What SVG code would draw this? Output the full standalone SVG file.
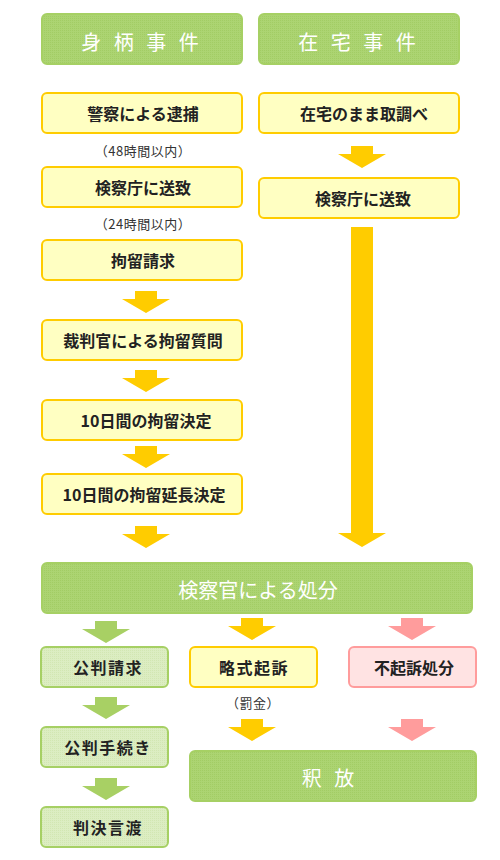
<svg xmlns="http://www.w3.org/2000/svg" width="500" height="860" viewBox="0 0 500 860">
<defs>
<pattern id="dotG" width="2" height="2" patternUnits="userSpaceOnUse">
<rect width="2" height="2" fill="#acd472"/><rect width="1" height="1" fill="#a2cc64"/>
</pattern>
<pattern id="dotL" width="2" height="2" patternUnits="userSpaceOnUse">
<rect width="2" height="2" fill="#dcedc2"/><rect width="1" height="1" fill="#d2e6b2"/>
</pattern>
<path id="arr" d="M-11,0 H11 V8 H24 L0,22 L-24,8 H-11 Z"/>
</defs>
<style>
.hd{fill:url(#dotG);stroke:#a6d064;stroke-width:2}
.yb{fill:#ffffc2;stroke:#ffcc00;stroke-width:2}
.gb{fill:url(#dotL);stroke:#a6d064;stroke-width:2}
.pb{fill:#ffe3e3;stroke:#ff9c9c;stroke-width:2}
.t{font-family:"Noto Sans CJK JP","Noto Sans",sans-serif;font-size:16px;font-weight:bold;fill:#222;text-anchor:middle;dominant-baseline:central}
.sp{letter-spacing:1.5px}
.s{font-family:"Noto Sans CJK JP","Noto Sans",sans-serif;font-size:13px;fill:#333;text-anchor:middle;dominant-baseline:central;letter-spacing:0.5px}
.w{font-family:"Noto Sans CJK JP","Noto Sans",sans-serif;font-size:20px;fill:#fff;text-anchor:middle;dominant-baseline:central}
.ya{fill:#ffcc00}.ga{fill:#a8d064}.pa{fill:#ff9c9c}
</style>
<g id="connectors">
<use href="#arr" class="ya" x="146" y="291"/>
<use href="#arr" class="ya" x="146" y="370"/>
<use href="#arr" class="ya" x="146" y="446"/>
<use href="#arr" class="ya" x="146" y="526"/>
<use href="#arr" class="ya" x="362" y="146"/>
<path class="ya" d="M351,227 H373 V533 H386 L362,547 L338,533 H351 Z"/>
<use href="#arr" class="ga" x="106" y="621"/>
<use href="#arr" class="ga" x="106" y="697"/>
<use href="#arr" class="ga" x="106" y="778"/>
<use href="#arr" class="ya" x="252" y="618"/>
<use href="#arr" class="ya" x="252" y="719"/>
<use href="#arr" class="pa" x="412" y="618"/>
<use href="#arr" class="pa" x="412" y="719"/>
</g>
<g id="h1"><rect class="hd" x="42" y="14" width="200" height="50" rx="5"/><text class="w" x="142" y="41" letter-spacing="4">身 柄 事 件</text></g>
<g id="h2"><rect class="hd" x="259" y="14" width="200" height="50" rx="5"/><text class="w" x="359" y="41" letter-spacing="4">在 宅 事 件</text></g>
<g id="n1"><rect class="yb" x="42" y="93" width="200" height="40" rx="5"/><text class="t" x="143" y="113">警察による逮捕</text></g>
<g id="l1"><text class="s" x="143" y="150">（48時間以内）</text></g>
<g id="n2"><rect class="yb" x="42" y="167" width="200" height="40" rx="5"/><text class="t" x="143" y="187">検察庁に送致</text></g>
<g id="l2"><text class="s" x="143" y="223">（24時間以内）</text></g>
<g id="n3"><rect class="yb" x="42" y="240" width="200" height="40" rx="5"/><text class="t" x="143" y="260">拘留請求</text></g>
<g id="n4"><rect class="yb" x="42" y="320" width="200" height="40" rx="5"/><text class="t" x="143" y="340">裁判官による拘留質問</text></g>
<g id="n5"><rect class="yb" x="42" y="400" width="200" height="40" rx="5"/><text class="t" x="146" y="420">10日間の拘留決定</text></g>
<g id="n6"><rect class="yb" x="42" y="474" width="200" height="40" rx="5"/><text class="t" x="144" y="494">10日間の拘留延長決定</text></g>
<g id="r1"><rect class="yb" x="259" y="93" width="200" height="40" rx="5"/><text class="t" x="364" y="113">在宅のまま取調べ</text></g>
<g id="r2"><rect class="yb" x="259" y="178" width="200" height="40" rx="5"/><text class="t" x="363" y="198">検察庁に送致</text></g>
<g id="disp"><rect class="hd" x="42" y="563" width="430" height="50" rx="5"/><text class="w" x="258" y="589" font-size="21">検察官による処分</text></g>
<g id="k1"><rect class="gb" x="41" y="647" width="127" height="40" rx="5"/><text class="t sp" x="108" y="667">公判請求</text></g>
<g id="k2"><rect class="gb" x="41" y="727" width="127" height="40" rx="5"/><text class="t sp" x="108" y="747">公判手続き</text></g>
<g id="k3"><rect class="gb" x="41" y="807" width="127" height="40" rx="5"/><text class="t sp" x="108" y="827">判決言渡</text></g>
<g id="ry"><rect class="yb" x="190" y="647" width="127" height="40" rx="5"/><text class="t sp" x="254" y="667">略式起訴</text></g>
<g id="l3"><text class="s" x="253" y="702">（罰金）</text></g>
<g id="fk"><rect class="pb" x="349" y="647" width="127" height="40" rx="5"/><text class="t" x="414" y="667">不起訴処分</text></g>
<g id="sh"><rect class="hd" x="190" y="751" width="286" height="50" rx="5"/><text class="w" x="330" y="777" letter-spacing="4">釈 放</text></g>
</svg>
